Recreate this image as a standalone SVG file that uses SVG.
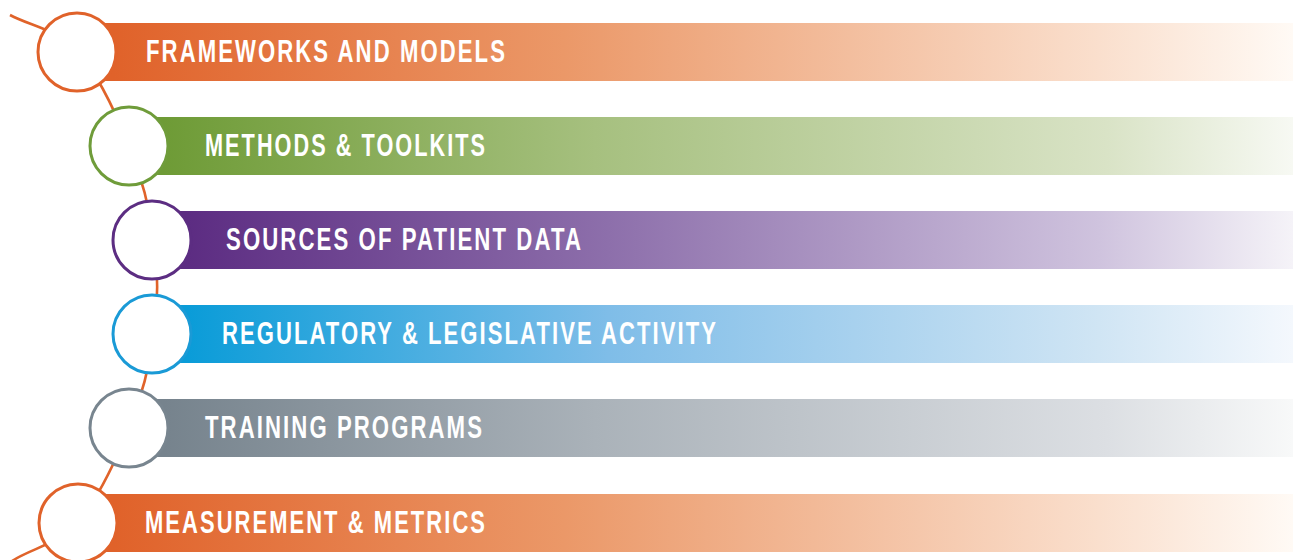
<svg xmlns="http://www.w3.org/2000/svg" width="1293" height="560" viewBox="0 0 1293 560">
<style>
.lbl{font-family:"Liberation Sans Narrow","Liberation Sans",Arial,sans-serif;font-weight:bold;font-size:32px;letter-spacing:3px;fill:#ffffff;}
.node{fill:#ffffff;stroke-width:3;}
.conn{fill:none;stroke:#e0632a;stroke-width:2.6;}
</style>
<defs>
<linearGradient id="gOrange" x1="0" y1="0" x2="1" y2="0">
<stop offset="0.03" stop-color="#e0622a"/>
<stop offset="0.4" stop-color="#eb9868"/>
<stop offset="0.84" stop-color="#fadfcd"/>
<stop offset="1" stop-color="#fffaf5"/>
</linearGradient>
<linearGradient id="gGreen" x1="0" y1="0" x2="1" y2="0">
<stop offset="0.03" stop-color="#6e9b36"/>
<stop offset="0.4" stop-color="#a6c07f"/>
<stop offset="0.84" stop-color="#d9e3c6"/>
<stop offset="1" stop-color="#f7f9f3"/>
</linearGradient>
<linearGradient id="gPurple" x1="0" y1="0" x2="1" y2="0">
<stop offset="0.03" stop-color="#5c2c82"/>
<stop offset="0.4" stop-color="#8d6fab"/>
<stop offset="0.83" stop-color="#cfc3de"/>
<stop offset="1" stop-color="#f5f3f8"/>
</linearGradient>
<linearGradient id="gBlue" x1="0" y1="0" x2="1" y2="0">
<stop offset="0.03" stop-color="#0a9cd8"/>
<stop offset="0.4" stop-color="#7fbde8"/>
<stop offset="0.83" stop-color="#d0e5f4"/>
<stop offset="1" stop-color="#f4f8fd"/>
</linearGradient>
<linearGradient id="gGray" x1="0" y1="0" x2="1" y2="0">
<stop offset="0.03" stop-color="#76838d"/>
<stop offset="0.4" stop-color="#aab2b9"/>
<stop offset="0.84" stop-color="#dcdfe3"/>
<stop offset="1" stop-color="#f8f9f9"/>
</linearGradient>
</defs>
<rect width="1293" height="560" fill="#ffffff"/>
<g id="connectors">
<path class="conn" d="M10,15 C31,26.3 56.8,29 77,51 C97.2,73 116.5,114.5 129,146 C141.8,177.5 149.8,208.7 154,240 C158.2,271.3 158.2,302.7 154,334 C149.8,365.3 141.8,396.5 129,428 C116.2,459.5 96.8,501 77,523 C57.2,545 32.3,547.7 12,561"/>
</g>
<g id="node1">
<rect x="77" y="23" width="1216" height="58" fill="url(#gOrange)"/>
<circle class="node" cx="77" cy="52" r="39" stroke="#e0622a"/>
<text class="lbl" x="146" y="62" textLength="361" lengthAdjust="spacingAndGlyphs">FRAMEWORKS AND MODELS</text>
</g>
<g id="node2">
<rect x="129" y="117" width="1164" height="58" fill="url(#gGreen)"/>
<circle class="node" cx="129" cy="146" r="39" stroke="#6f9c3a"/>
<text class="lbl" x="205" y="156" textLength="282" lengthAdjust="spacingAndGlyphs">METHODS &amp; TOOLKITS</text>
</g>
<g id="node3">
<rect x="152" y="211" width="1141" height="58" fill="url(#gPurple)"/>
<circle class="node" cx="152" cy="240" r="39" stroke="#5c2d82"/>
<text class="lbl" x="226" y="250" textLength="357" lengthAdjust="spacingAndGlyphs">SOURCES OF PATIENT DATA</text>
</g>
<g id="node4">
<rect x="152" y="305" width="1141" height="58" fill="url(#gBlue)"/>
<circle class="node" cx="152" cy="334" r="39" stroke="#1a9ad6"/>
<text class="lbl" x="222" y="344" textLength="496" lengthAdjust="spacingAndGlyphs">REGULATORY &amp; LEGISLATIVE ACTIVITY</text>
</g>
<g id="node5">
<rect x="129" y="399" width="1164" height="58" fill="url(#gGray)"/>
<circle class="node" cx="129" cy="428" r="39" stroke="#78858f"/>
<text class="lbl" x="205" y="438" textLength="279" lengthAdjust="spacingAndGlyphs">TRAINING PROGRAMS</text>
</g>
<g id="node6">
<rect x="78" y="494" width="1215" height="58" fill="url(#gOrange)"/>
<circle class="node" cx="78" cy="523" r="39" stroke="#e0622a"/>
<text class="lbl" x="145" y="533" textLength="342" lengthAdjust="spacingAndGlyphs">MEASUREMENT &amp; METRICS</text>
</g>
</svg>
